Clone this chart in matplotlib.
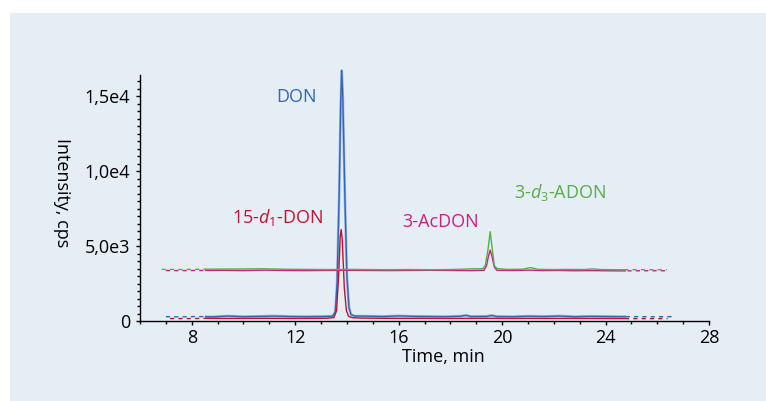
import matplotlib
matplotlib.use('Agg')
import matplotlib.pyplot as plt
from matplotlib.patches import Rectangle
from matplotlib.ticker import MultipleLocator
import numpy as np

# ---------------- data ----------------
don_time = [7.0, 7.6, 8.2, 8.8, 9.4, 10.0, 10.6, 11.2, 11.8, 12.4,
            13.0, 13.3, 13.45, 13.55, 13.62, 13.70, 13.76, 13.80, 13.84, 13.92,
            14.00, 14.08, 14.16, 14.3, 14.8, 15.4, 16.0, 16.6, 17.2, 17.8,
            18.4, 18.6, 18.8, 19.4, 19.6, 19.8, 20.4, 21.0, 21.6, 22.2,
            22.8, 23.4, 24.0, 24.6, 25.2, 25.8, 26.57]
don_int = [290, 270, 300, 280, 330, 290, 310, 330, 300, 290,
           300, 310, 330, 600, 2500, 8400, 14500, 16700, 15000, 8400,
           3000, 900, 420, 330, 320, 300, 340, 310, 300, 290,
           320, 380, 300, 310, 370, 300, 290, 320, 300, 330,
           290, 310, 300, 290, 290, 280, 290]

d1don_time = [7.0, 7.8, 8.6, 9.4, 10.2, 11.0, 11.8, 12.6, 13.2, 13.5,
              13.6, 13.68, 13.74, 13.78, 13.82, 13.90, 13.98, 14.06, 14.2, 14.6,
              15.4, 16.2, 17.0, 17.8, 18.6, 19.4, 20.2, 21.0, 21.8, 22.6,
              23.4, 24.2, 25.0, 25.8, 26.4]
d1don_int = [170, 160, 180, 170, 175, 180, 170, 175, 180, 230,
             700, 3000, 5600, 6100, 5400, 2200, 700, 320, 220, 190,
             180, 175, 180, 170, 175, 180, 170, 175, 170, 175,
             170, 165, 160, 160, 160]

d3adon_time = [6.84, 7.6, 8.4, 9.2, 10.0, 10.8, 11.6, 12.4, 13.2, 14.0,
               14.8, 15.6, 16.4, 17.2, 18.0, 18.6, 18.8, 19.25, 19.35, 19.45,
               19.54, 19.62, 19.70, 19.8, 20.2, 20.8, 21.1, 21.4, 22.0, 22.6,
               23.2, 23.5, 23.8, 24.4, 25.2, 26.37]
d3adon_int = [3440, 3430, 3450, 3460, 3470, 3480, 3450, 3440, 3430, 3440,
              3430, 3420, 3430, 3420, 3430, 3460, 3480, 3480, 3700, 4700,
              5950, 4800, 3700, 3500, 3440, 3450, 3560, 3440, 3430, 3440,
              3430, 3470, 3430, 3420, 3420, 3420]

acdon_time = [6.84, 7.6, 8.4, 9.2, 10.0, 10.8, 11.6, 12.4, 13.2, 14.0,
              14.8, 15.6, 16.4, 17.2, 18.0, 18.8, 19.3, 19.4, 19.47, 19.54,
              19.61, 19.70, 19.8, 20.4, 21.0, 21.6, 22.2, 22.8, 23.4, 24.0,
              24.6, 25.4, 26.37]
acdon_int = [3370, 3360, 3370, 3380, 3360, 3390, 3370, 3360, 3370, 3380,
             3370, 3360, 3370, 3380, 3370, 3360, 3380, 3700, 4300, 4730,
             4300, 3600, 3380, 3370, 3390, 3360, 3370, 3350, 3360, 3350,
             3340, 3350, 3350]

x_ticks = [8, 12, 16, 20, 24, 28]
y_ticks = [0, 5000, 10000, 15000]
y_tick_labels = ['0', '5,0e3', '1,0e4', '1,5e4']

labels = ['DON', r'15-$\mathit{d}_{\mathit{1}}$-DON', '3-AcDON', r'3-$\mathit{d}_{\mathit{3}}$-ADON']
label_t = [12.07, 11.31, 17.61, 22.24]
label_y = [14930, 6890, 6620, 8553]

# ---------------- style ----------------
plt.rcParams['font.family'] = ['Open Sans', 'DejaVu Sans']
plt.rcParams['mathtext.fontset'] = 'custom'
plt.rcParams['mathtext.rm'] = 'Open Sans'
plt.rcParams['mathtext.it'] = 'Open Sans:italic'

BLUE = '#3565b5'
LBLUE = '#9db9e2'
RED = '#c8102e'
MAG = '#cc1f7f'
GREEN = '#5aac44'
BG = '#e5edf5'
FS = 13

solid_start = 8.5
solid_end = 24.8

fig = plt.figure(figsize=(7.66, 4.01), dpi=100)
fig.patch.set_facecolor('white')
fig.patches.append(Rectangle((10 / 766, 0), 1 - 10 / 766, 1 - 13 / 401,
                             transform=fig.transFigure, facecolor=BG,
                             edgecolor='none', zorder=-10))

ax = fig.add_axes([140 / 766, (401 - 321) / 401, (709 - 140) / 766, (321 - 75) / 401])
ax.set_facecolor('none')
for s in ['top', 'right']:
    ax.spines[s].set_visible(False)
for s in ['left', 'bottom']:
    ax.spines[s].set_linewidth(1.0)
    ax.spines[s].set_color('black')

xt = ax.get_xaxis_transform()


def clip_rect(x0, x1):
    r = Rectangle((x0, -0.2), x1 - x0, 1.5, transform=xt,
                  facecolor='none', edgecolor='none')
    return r


def draw_trace(t, y, color, dash_offset, lw=1.0, under=None, z=2):
    # dashed ends
    for (a, b) in [(0, solid_start), (solid_end, 40)]:
        ln, = ax.plot(t, y, color=color, lw=lw,
                      linestyle=(dash_offset, (3, 3)), zorder=z)
        ln.set_clip_path(clip_rect(a, b))
    if under is not None:
        ln, = ax.plot(t, y, color=under, lw=lw * 1.9, zorder=z - 0.5)
        ln.set_clip_path(clip_rect(solid_start, solid_end))
    ln, = ax.plot(t, y, color=color, lw=lw, zorder=z)
    ln.set_clip_path(clip_rect(solid_start, solid_end))


draw_trace(don_time, don_int, BLUE, 0, under=LBLUE, z=2)
draw_trace(d1don_time, d1don_int, RED, 3, z=3)
draw_trace(acdon_time, acdon_int, MAG, 3, z=4)
draw_trace(d3adon_time, d3adon_int, GREEN, 0, z=5)

colors = [BLUE, RED, MAG, GREEN]
for lab, tx, ty, c in zip(labels, label_t, label_y, colors):
    ax.text(tx, ty, lab, color=c, fontsize=FS, ha='center', va='center')

ax.set_xlim(6, 28)
ax.set_ylim(0, 16400)
ax.set_xticks(x_ticks)
ax.xaxis.set_minor_locator(MultipleLocator(1))
ax.set_yticks(y_ticks)
ax.set_yticklabels(y_tick_labels)
ax.yaxis.set_minor_locator(MultipleLocator(500))
ax.tick_params(which='both', direction='out', colors='black', width=1.0)
ax.tick_params(which='major', length=3, labelsize=FS)
ax.tick_params(axis='x', which='major', pad=3)
ax.tick_params(axis='y', which='major', pad=4)
ax.tick_params(which='minor', length=2.5)

fig.text(62 / 766, 1 - 192.5 / 401, 'Intensity, cps', rotation=-90,
         ha='center', va='center', fontsize=FS)
fig.text(443 / 766, 1 - 357 / 401, 'Time, min', ha='center', va='center',
         fontsize=FS)

fig.savefig('out.png', dpi=100, facecolor='white')
